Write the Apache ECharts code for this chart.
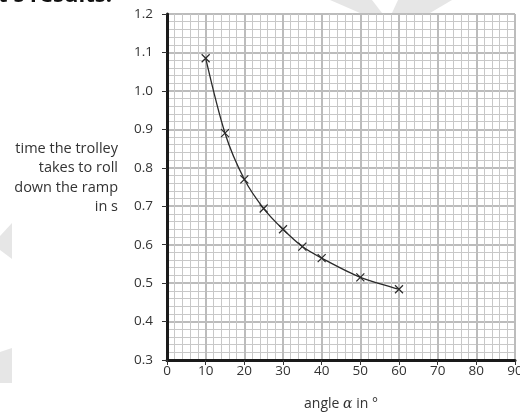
<!DOCTYPE html>
<html>
<head>
<meta charset="utf-8">
<script src="https://cdn.jsdelivr.net/npm/echarts@6/dist/echarts.min.js"></script>
<style>html,body{margin:0;padding:0;background:#fff;}#c{width:520px;height:414px;}</style>
</head>
<body>
<div id="c"></div>
<script>
var angles = [10, 15, 20, 25, 30, 35, 40, 50, 60];
var times = [1.085, 0.89, 0.77, 0.694, 0.64, 0.595, 0.565, 0.515, 0.484];
var xTicks = [0, 10, 20, 30, 40, 50, 60, 70, 80, 90];
var yTicks = [0.3, 0.4, 0.5, 0.6, 0.7, 0.8, 0.9, 1.0, 1.1, 1.2];
var yTitle = ['time the trolley', 'takes to roll', 'down the ramp', 'in s'];

var font = '"Open Sans", "Noto Sans", sans-serif';
var chart = echarts.init(document.getElementById('c'), null, {renderer: 'canvas'});
var data = angles.map(function (a, i) { return [a, times[i]]; });

chart.setOption({
  animation: false,
  backgroundColor: '#fff',
  grid: {left: 167, right: 5, top: 14, bottom: 54, containLabel: false, outerBoundsMode: 'none'},
  xAxis: {
    type: 'value', min: xTicks[0], max: xTicks[xTicks.length - 1], interval: 10,
    name: '{n|angle }{a|α}{n| in °}', nameLocation: 'middle', nameGap: 37,
    nameTextStyle: {rich: {n: {fontFamily: font, fontSize: 14, color: '#333'}, a: {fontFamily: 'DejaVu Serif, serif', fontStyle: 'italic', fontSize: 14, color: '#333'}}},
    axisLine: {show: true, onZero: false, lineStyle: {color: '#1a1a1a', width: 3}},
    axisTick: {show: true, length: 5, lineStyle: {color: '#333', width: 1}},
    axisLabel: {fontFamily: font, fontSize: 13.5, color: '#333', margin: 4},
    splitLine: {show: true, lineStyle: {color: '#bcbcbc', width: 2}},
    minorTick: {show: false, splitNumber: 5},
    minorSplitLine: {show: true, lineStyle: {color: '#c8c8c8', width: 1}}
  },
  yAxis: {
    type: 'value', min: 0.3, max: 1.2, interval: 0.1,
    axisLine: {show: true, onZero: false, lineStyle: {color: '#1a1a1a', width: 3}},
    axisTick: {show: true, length: 5, lineStyle: {color: '#333', width: 1}},
    axisLabel: {fontFamily: font, fontSize: 13.5, color: '#333', margin: 14,
      formatter: function (v) { return v.toFixed(1); }},
    splitLine: {show: true, lineStyle: {color: '#bcbcbc', width: 2}},
    minorTick: {show: false, splitNumber: 5},
    minorSplitLine: {show: true, lineStyle: {color: '#c8c8c8', width: 1}}
  },
  graphic: [
    {type: 'polygon', silent: true, z: -10, shape: {points: [[330, 0], [372, 0], [382, 13], [360, 13]]}, style: {fill: '#e6e6e6'}},
    {type: 'polygon', silent: true, z: -10, shape: {points: [[398, 0], [452, 0], [430, 13], [392, 13]]}, style: {fill: '#e6e6e6'}},
    {type: 'polygon', silent: true, z: -10, shape: {points: [[12, 223], [12, 259], [0, 250], [0, 236]]}, style: {fill: '#e6e6e6'}},
    {type: 'polygon', silent: true, z: -10, shape: {points: [[12, 348], [12, 383], [0, 383], [0, 352]]}, style: {fill: '#e6e6e6'}},
    {type: 'text', left: -2, top: -15, style: {text: "t's results:", font: 'bold 22px ' + font, fill: '#111'}},
    {type: 'text', x: 118, y: 178, style: {text: yTitle.join('\n'), font: '14.5px ' + font, fill: '#333', textAlign: 'right', textVerticalAlign: 'middle', lineHeight: 19.5}}
  ],
  series: [{
    type: 'line', data: data, smooth: 0.3,
    lineStyle: {color: '#2a2a2a', width: 1.3},
    symbol: 'path://M0,0L10,10M0,10L10,0', symbolSize: 8, showSymbol: true,
    itemStyle: {color: '#2a2a2a', borderColor: '#2a2a2a', borderWidth: 1.2},
    z: 5
  }]
});
</script>
</body>
</html>
